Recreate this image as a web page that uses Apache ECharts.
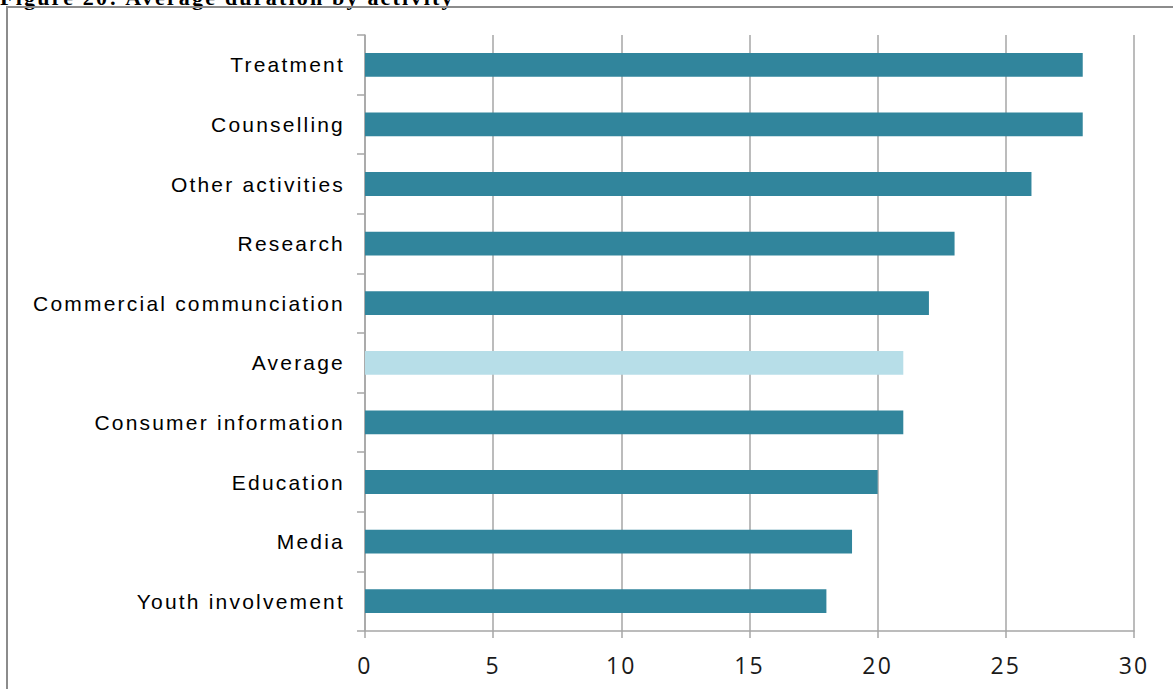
<!DOCTYPE html>
<html>
<head>
<meta charset="utf-8">
<title>Average duration by activity</title>
<script src="https://cdn.jsdelivr.net/npm/echarts@6/dist/echarts.min.js"></script>
<style>
  html, body { margin: 0; padding: 0; background: #fff; }
  #chart { width: 1173px; height: 689px; }
  /* loose tracking on every label, as in the printed report */
  #chart text { letter-spacing: 2.2px; }
</style>
</head>
<body>
<div id="chart"></div>
<script>
// Activities, listed top to bottom
const activities = [
  'Treatment', 'Counselling', 'Other activities', 'Research',
  'Commercial communciation', 'Average', 'Consumer information',
  'Education', 'Media', 'Youth involvement'
];
// Average duration per activity
const durations = [28, 28, 26, 23, 22, 21, 21, 20, 19, 18];
const xTicks = [0, 5, 10, 15, 20, 25, 30];

const barColor = '#31859C';
const averageColor = '#B7DEE8';
const gridGray = '#A6A6A6';

const chart = echarts.init(document.getElementById('chart'), null, { renderer: 'svg' });

chart.setOption({
  animation: false,
  backgroundColor: '#fff',
  graphic: [
    {
      type: 'text',
      left: 0,
      top: -14,
      style: {
        text: 'Figure 20: Average duration by activity',
        font: 'bold 22px "Liberation Serif", "Times New Roman", serif',
        fill: '#000'
      }
    },
    {
      type: 'rect',
      shape: { x: 7, y: 7, width: 1200, height: 720 },
      style: { fill: 'none', stroke: '#8C8C8C', lineWidth: 2 }
    }
  ],
  grid: { left: 365, right: 39, top: 35, bottom: 58, containLabel: false },
  xAxis: {
    type: 'value',
    min: xTicks[0],
    max: xTicks[xTicks.length - 1],
    interval: 5,
    axisLine: { show: true, lineStyle: { color: gridGray, width: 1.5 } },
    axisTick: { show: true, length: 7, lineStyle: { color: gridGray, width: 1.5 } },
    splitLine: { show: true, lineStyle: { color: gridGray, width: 1.5 } },
    axisLabel: {
      margin: 22,
      color: '#1a1a1a',
      fontSize: 23,
      fontFamily: '"Open Sans", "Liberation Sans", sans-serif'
    }
  },
  yAxis: {
    type: 'category',
    data: activities,
    inverse: true,
    boundaryGap: true,
    axisLine: { show: true, lineStyle: { color: gridGray, width: 1.5 } },
    axisTick: { show: true, length: 8, lineStyle: { color: gridGray, width: 1.5 } },
    splitLine: { show: false },
    axisLabel: {
      margin: 20,
      color: '#000',
      fontSize: 21,
      fontFamily: '"Liberation Sans", Arial, sans-serif'
    }
  },
  series: [{
    type: 'bar',
    barWidth: '40%',
    data: durations.map((v, i) => ({
      value: v,
      itemStyle: { color: activities[i] === 'Average' ? averageColor : barColor }
    }))
  }]
});
</script>
</body>
</html>
